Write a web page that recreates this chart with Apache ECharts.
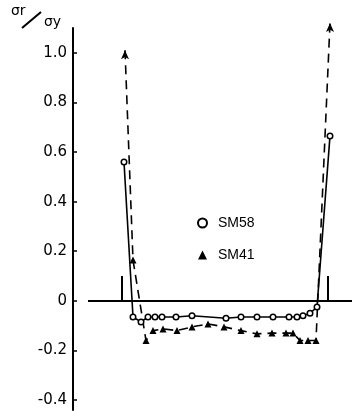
<!DOCTYPE html>
<html>
<head>
<meta charset="utf-8">
<script src="https://cdn.jsdelivr.net/npm/echarts@6/dist/echarts.min.js"></script>
<style>html,body{margin:0;padding:0;background:#fff}#c{width:356px;height:411px}</style>
</head>
<body>
<div id="c"></div>
<script>
// Position along the specimen (arbitrary units) and σr/σy values
const sm58X = [51, 60, 68, 75, 82, 89, 103, 119, 153, 168, 184, 200, 216, 224, 230, 237, 244, 257];
const sm58Y = [0.56, -0.065, -0.085, -0.065, -0.065, -0.065, -0.065, -0.06, -0.07, -0.065, -0.065, -0.065, -0.065, -0.065, -0.06, -0.05, -0.025, 0.665];
const sm41X = [52, 60, 73, 80, 90, 104, 119, 135, 151, 168, 184, 199, 213, 220, 227, 235, 243, 257];
const sm41Y = [1.01, 0.165, -0.16, -0.12, -0.113, -0.12, -0.105, -0.093, -0.105, -0.12, -0.133, -0.13, -0.13, -0.13, -0.16, -0.16, -0.16, 1.12];
const yTicks = [-0.4, -0.2, 0, 0.2, 0.4, 0.6, 0.8, 1.0];
const yTickLabels = ['-0.4', '-0.2', '0', '0.2', '0.4', '0.6', '0.8', '1.0'];
const edgeX = [49, 255];
const edgeHeight = 0.1;
const zeroLineX = [15, 279];
const seriesNames = ['SM58', 'SM41'];

const chart = echarts.init(document.getElementById('c'), null, {renderer: 'canvas'});
const sm58Data = sm58X.map((x, i) => [x, sm58Y[i]]);
const sm41Data = sm41X.map((x, i) => {
  const p = {value: [x, sm41Y[i]]};
  if (i === 0 || i === sm41X.length - 1) { p.symbol = 'arrow'; p.symbolSize = [6, 9]; }
  return p;
});
const font = 'DejaVu Sans';
chart.setOption({
  animation: false,
  backgroundColor: '#fff',
  grid: {left: 73, right: 4, top: 28, bottom: 1, containLabel: false},
  xAxis: {
    type: 'value', min: 0, max: 279,
    show: false
  },
  yAxis: {
    type: 'value', min: -0.44, max: 1.1,
    axisLine: {show: true, lineStyle: {color: '#000', width: 2}},
    axisTick: {show: true, inside: true, length: 4, customValues: yTicks, lineStyle: {color: '#000', width: 1.5}},
    axisLabel: {
      customValues: yTicks, margin: 6, color: '#000', fontFamily: font, fontSize: 15,
      formatter: v => yTickLabels[yTicks.findIndex(t => Math.abs(t - v) < 1e-6)]
    },
    splitLine: {show: false}
  },
  legend: {
    orient: 'vertical', left: 192, top: 211, itemGap: 18, itemWidth: 9, itemHeight: 9,
    textStyle: {color: '#000', fontFamily: 'Liberation Sans', fontSize: 14, padding: [0, 0, 0, 6]},
    data: [
      {name: seriesNames[0], icon: 'circle', itemStyle: {color: '#fff', borderColor: '#000', borderWidth: 2}},
      {name: seriesNames[1], icon: 'triangle', itemStyle: {color: '#000'}}
    ]
  },
  series: [
    {
      name: seriesNames[0], type: 'line', data: sm58Data, clip: false,
      symbol: 'circle', symbolSize: 5.5,
      itemStyle: {color: '#fff', borderColor: '#000', borderWidth: 1.5},
      lineStyle: {color: '#000', width: 1.6},
      z: 3,
      markLine: {
        silent: true, symbol: 'none', label: {show: false},
        lineStyle: {color: '#000', width: 2, type: 'solid'},
        data: [
          [{coord: [zeroLineX[0], 0]}, {coord: [zeroLineX[1], 0]}],
          [{coord: [edgeX[0], 0]}, {coord: [edgeX[0], edgeHeight]}],
          [{coord: [edgeX[1], 0]}, {coord: [edgeX[1], edgeHeight]}]
        ]
      }
    },
    {
      name: seriesNames[1], type: 'line', data: sm41Data, clip: false,
      symbol: 'triangle', symbolSize: 7,
      itemStyle: {color: '#000'},
      lineStyle: {color: '#000', width: 1.6, type: [9, 6]},
      z: 2
    }
  ],
  graphic: [
    {type: 'text', left: 11, top: 4, style: {text: 'σr', font: '14px DejaVu Sans', fill: '#000'}},
    {type: 'line', shape: {x1: 22, y1: 28, x2: 41, y2: 12}, style: {stroke: '#000', lineWidth: 2}},
    {type: 'text', left: 44, top: 15, style: {text: 'σy', font: '14px DejaVu Sans', fill: '#000'}}
  ]
});
</script>
</body>
</html>
